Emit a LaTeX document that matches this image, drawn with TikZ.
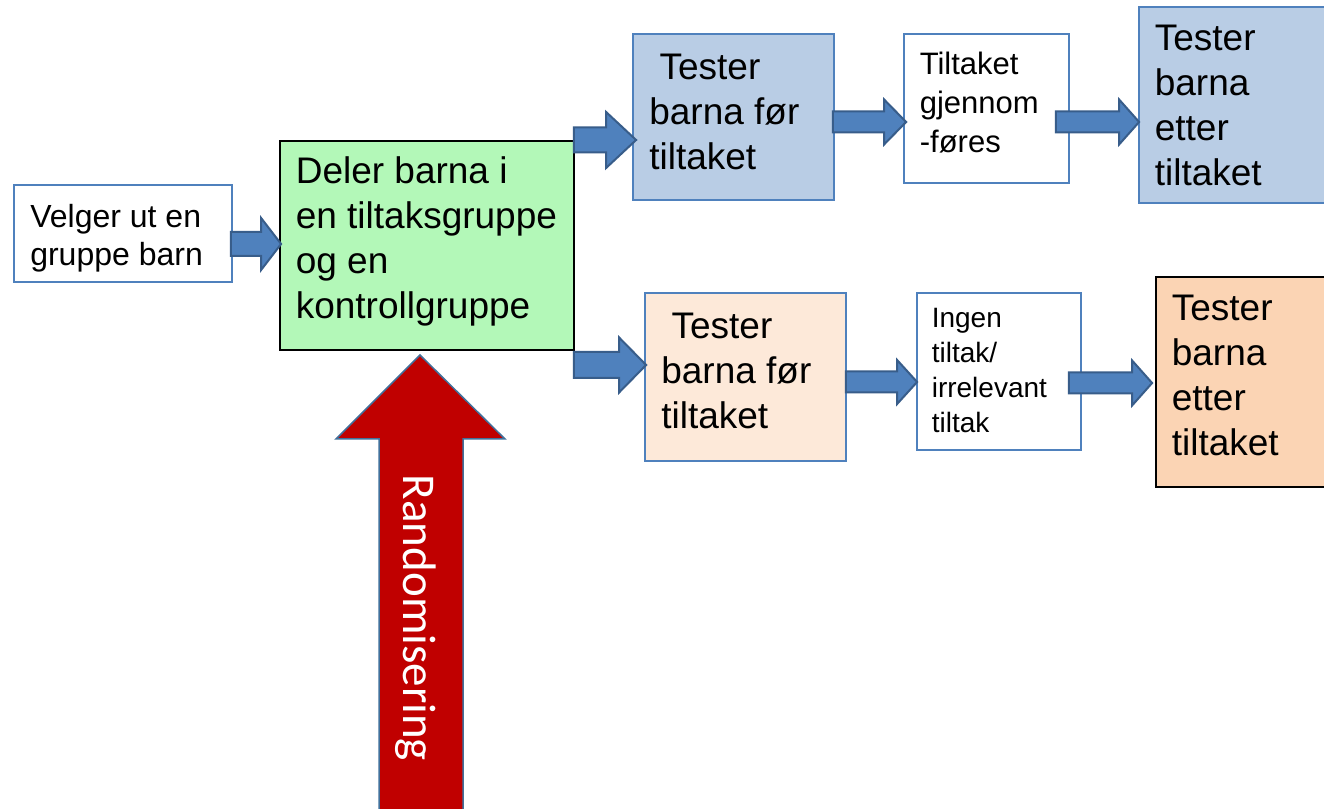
\documentclass[tikz,border=0pt]{standalone}
\usepackage{fontspec}
\setmainfont{Liberation Sans}
\newfontfamily\calfont{Carlito}
\usetikzlibrary{calc}
\definecolor{boxblue}{HTML}{4F81BD}
\definecolor{arrfill}{HTML}{4F81BD}
\definecolor{arrline}{HTML}{385D8A}
\definecolor{fillA}{HTML}{B9CDE5}
\definecolor{fillpeach}{HTML}{FDE9D9}
\definecolor{fillorange}{HTML}{FBD4B4}
\definecolor{fillgreen}{HTML}{B3F8B8}
\definecolor{redarr}{HTML}{C00000}
\definecolor{redline}{HTML}{41719C}
% #1 from, #2 to, #3 start offset, #4 tip offset, #5 y, #6 shaft half, #7 head half, #8 head length
\newcommand{\blockarrow}[8]{%
  \path[blockarr] let \p1=(#1.east), \p2=(#2.west) in
    ({\x1+(#3)*1pt},{(#5+#6)*1pt}) -- ({\x2+(#4)*1pt-(#8)*1pt},{(#5+#6)*1pt})
    -- ({\x2+(#4)*1pt-(#8)*1pt},{(#5+#7)*1pt}) -- ({\x2+(#4)*1pt},{(#5)*1pt})
    -- ({\x2+(#4)*1pt-(#8)*1pt},{(#5-#7)*1pt}) -- ({\x2+(#4)*1pt-(#8)*1pt},{(#5-#6)*1pt})
    -- ({\x1+(#3)*1pt},{(#5-#6)*1pt}) -- cycle;}
\tikzset{
  box/.style={draw=boxblue, line width=1.8pt, inner sep=0pt, anchor=center},
  txt/.style={anchor=west, align=left, inner sep=0pt},
  bigtext/.style={font=\fontsize{37}{45}\selectfont},
  blockarr/.style={draw=arrline, line width=2pt, fill=arrfill, line join=miter},
}
\begin{document}
\begin{tikzpicture}[x=1pt,y=1pt]
\useasboundingbox (0,0) rectangle (1324,808);
\fill[white] (0,0) rectangle (1324,808);
% boxes
\node[box, fill=white, minimum width=218pt, minimum height=97pt] (velger) at (123,574.5) {};
\node[box, draw=black, fill=fillgreen, minimum width=294pt, minimum height=209pt] (deler) at (427,562.5) {};
\node[box, fill=fillA, minimum width=201pt, minimum height=166pt] (testA) at (733.5,691) {};
\node[box, fill=white, minimum width=165pt, minimum height=149pt] (tilt) at (986.5,699.5) {};
\node[box, fill=fillA, minimum width=206pt, minimum height=196pt] (testB) at (1242,703) {};
\node[box, fill=fillpeach, minimum width=201pt, minimum height=168pt] (testP) at (745.5,431) {};
\node[box, fill=white, minimum width=164pt, minimum height=157pt] (ingen) at (999,436.5) {};
\node[box, draw=black, fill=fillorange, minimum width=189pt, minimum height=210pt] (testO) at (1250.5,426) {};
% texts
\node[txt, font=\fontsize{32}{38}\selectfont] (velgerT) at ([shift={(17,-5)}]velger.west) {Velger ut en\\gruppe barn};
\node[txt, bigtext] (delerT) at ([shift={(16.5,4)}]deler.west) {Deler barna i\\en tiltaksgruppe\\og en\\kontrollgruppe};
\node[txt, bigtext] (testAT) at ([shift={(17,5.5)}]testA.west) {\ Tester\\barna før\\tiltaket};
\node[txt, font=\fontsize{31}{39}\selectfont] (tiltT) at ([shift={(16.5,5.5)}]tilt.west) {Tiltaket\\gjennom\\-føres};
\node[txt, bigtext] (testBT) at ([shift={(16.5,0)}]testB.west) {Tester\\barna\\etter\\tiltaket};
\node[txt, bigtext] (testPT) at ([shift={(17,6.5)}]testP.west) {\ Tester\\barna før\\tiltaket};
\node[txt, font=\fontsize{28}{35}\selectfont] (ingenT) at ([shift={(15.5,0.5)}]ingen.west) {Ingen\\tiltak/\\irrelevant\\tiltak};
\node[txt, bigtext] (testOT) at ([shift={(16.5,7)}]testO.west) {Tester\\barna\\etter\\tiltaket};
% block arrows
\blockarrow{velger}{deler}{-2}{2}{564}{12}{26}{20}
\blockarrow{deler}{testA}{-1}{4}{668}{12.5}{28}{30}
\blockarrow{deler}{testP}{-1}{2}{443}{13}{27.5}{27}
\blockarrow{testA}{tilt}{-2}{3}{686}{10.5}{22.5}{22}
\blockarrow{tilt}{testB}{-14}{1}{686}{10.5}{22.5}{20}
\blockarrow{testP}{ingen}{-1}{1}{426}{10.5}{22}{20}
\blockarrow{ingen}{testO}{-13}{-3}{425}{10.5}{22.5}{20}
% randomisation arrow
\draw[draw=redline, line width=1.5pt, fill=redarr] (420,453) -- (505,369) -- (463,369) -- (463,-5) -- (379,-5) -- (379,369) -- (336,369) -- cycle;
\node[rotate=-90, anchor=base, text=white, inner sep=0pt, font=\calfont\fontsize{47}{56}\selectfont] (rand) at (403,190) {Randomisering};
\end{tikzpicture}
\end{document}
